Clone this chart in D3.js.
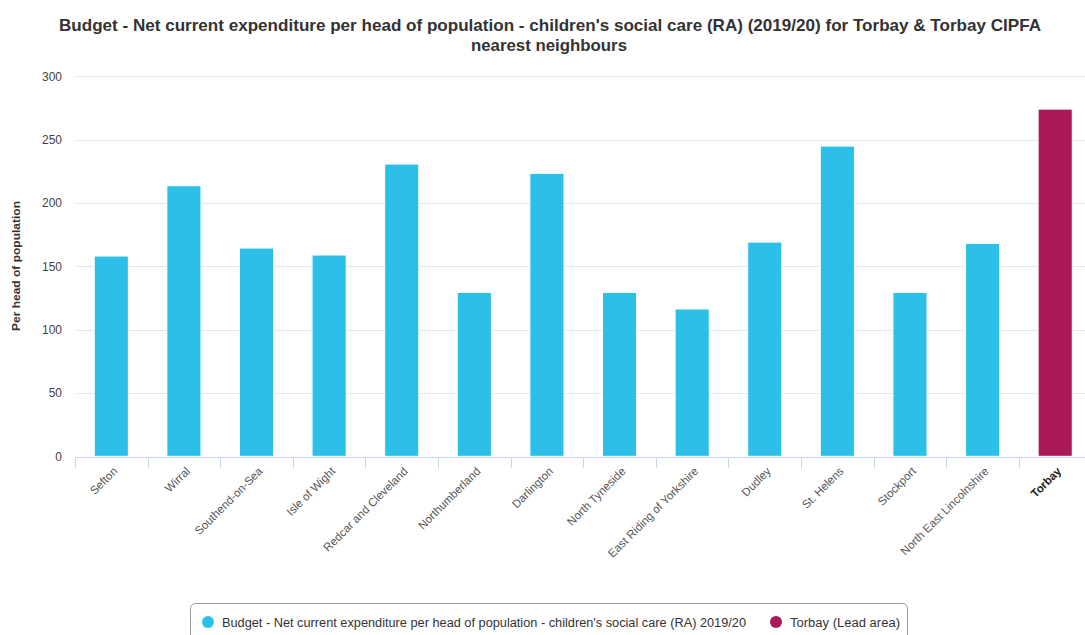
<!DOCTYPE html>
<meta charset="utf-8">
<body style="margin:0;background:#fff">
<script src="https://cdn.jsdelivr.net/npm/d3@7"></script>
<svg id="chart" width="1085" height="635"></svg>
<script>
// data
var areas = ["Sefton", "Wirral", "Southend-on-Sea", "Isle of Wight", "Redcar and Cleveland",
  "Northumberland", "Darlington", "North Tyneside", "East Riding of Yorkshire", "Dudley",
  "St. Helens", "Stockport", "North East Lincolnshire", "Torbay"]
var spend = [158.1, 213.6, 164.4, 158.9, 230.7, 129.4, 223.4, 129.4, 116.3, 169.1, 244.9, 129.4, 168.1, 274.1]
var yTicks = [0, 50, 100, 150, 200, 250, 300]
var leadArea = "Torbay"
var legendLabels = ["Budget - Net current expenditure per head of population - children's social care (RA) 2019/20", "Torbay (Lead area)"]

var blue = "#2cc0e9", plum = "#a91955"
var font = "'Liberation Sans', Arial, sans-serif"

var svg = d3.select("#chart")

var x = d3.scaleBand().domain(areas).range([75, 1091.5]).padding(0)
var y = d3.scaleLinear().domain([0, 300]).range([456.3, 76.3])

// title
var title = svg.append("text")
  .attr("x", 550).attr("y", 31)
  .attr("text-anchor", "middle")
  .style("font-family", font).style("font-weight", "bold")
  .style("font-size", "17px").style("fill", "#333")
title.append("tspan").attr("x", 550).attr("y", 31)
  .attr("textLength", 982).attr("lengthAdjust", "spacingAndGlyphs")
  .text("Budget - Net current expenditure per head of population - children's social care (RA) (2019/20) for Torbay & Torbay CIPFA")
title.append("tspan").attr("x", 549).attr("y", 51)
  .attr("textLength", 156).attr("lengthAdjust", "spacingAndGlyphs")
  .text("nearest neighbours")

// gridlines
svg.append("g").selectAll("line").data(yTicks.slice(1)).join("line")
  .attr("x1", 76).attr("x2", 1085)
  .attr("y1", d => Math.round(y(d)) + 0.5).attr("y2", d => Math.round(y(d)) + 0.5)
  .attr("stroke", "#e6e6e6")

// y axis labels
var yAxis = svg.append("g").attr("transform", "translate(62,0)")
  .call(d3.axisLeft(y).tickValues(yTicks).tickSize(0).tickPadding(0))
yAxis.select(".domain").remove()
yAxis.selectAll("text")
  .style("font-family", font).style("font-size", "12px").style("fill", "#444")

svg.append("text")
  .attr("transform", "translate(20,266) rotate(-90)")
  .attr("text-anchor", "middle")
  .attr("textLength", 130).attr("lengthAdjust", "spacingAndGlyphs")
  .style("font-family", font).style("font-weight", "bold")
  .style("font-size", "11.5px").style("fill", "#333")
  .text("Per head of population")

// bars
var bw = x.bandwidth() * 0.47
svg.append("g").selectAll("rect").data(areas).join("rect")
  .attr("x", d => x(d) + (x.bandwidth() - bw) / 2)
  .attr("width", bw)
  .attr("y", (d, i) => y(spend[i]))
  .attr("height", (d, i) => y(0) - y(spend[i]))
  .attr("fill", d => d == leadArea ? plum : blue)
  .attr("stroke", "#fff").attr("stroke-width", 1)

// x axis
svg.append("line")
  .attr("x1", 75).attr("x2", 1085).attr("y1", 457.5).attr("y2", 457.5)
  .attr("stroke", "#ccd6eb")
svg.append("g").selectAll("line").data(areas).join("line")
  .attr("x1", d => Math.round(x(d)) + 0.5).attr("x2", d => Math.round(x(d)) + 0.5)
  .attr("y1", 457).attr("y2", 468)
  .attr("stroke", "#ccd6eb")

svg.append("g").selectAll("text").data(areas).join("text")
  .attr("transform", d => "translate(" + (x(d) + x.bandwidth() / 2 + 4) + ",469) rotate(-45)")
  .attr("text-anchor", "end")
  .attr("dy", "0.35em")
  .style("font-family", font).style("font-size", "11.5px")
  .style("font-weight", d => d == leadArea ? "bold" : "normal")
  .style("fill", d => d == leadArea ? "#222" : "#555")
  .text(d => d)

// legend
var lg = svg.append("g")
lg.append("rect")
  .attr("x", 190.5).attr("y", 603.5).attr("width", 717).attr("height", 40).attr("rx", 5)
  .attr("fill", "#fff").attr("stroke", "#999")
var items = [{x: 208, c: blue, t: legendLabels[0], w: 524}, {x: 776, c: plum, t: legendLabels[1], w: 110}]
lg.selectAll("circle").data(items).join("circle")
  .attr("cx", d => d.x).attr("cy", 622).attr("r", 6).attr("fill", d => d.c)
lg.selectAll("text").data(items).join("text")
  .attr("x", d => d.x + 14).attr("y", 626.5)
  .attr("textLength", d => d.w).attr("lengthAdjust", "spacingAndGlyphs")
  .style("font-family", font).style("font-size", "12.5px").style("fill", "#333")
  .text(d => d.t)
</script>
</body>
